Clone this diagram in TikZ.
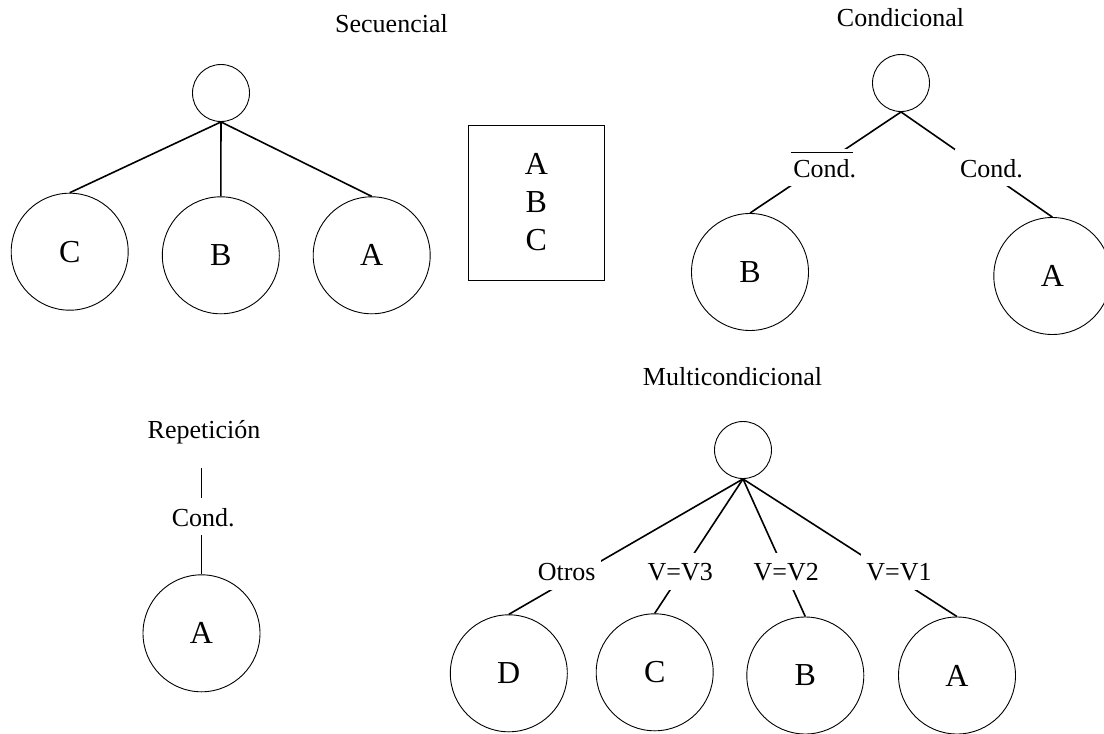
\documentclass[tikz,border=0pt]{standalone}
\usepackage{fontspec}
\setmainfont{Liberation Serif}
\usetikzlibrary{calc}
\begin{document}
\begin{tikzpicture}[x=1pt,y=-1pt,
  edge/.style={line width=1.6pt},
  leaf/.style={circle,draw,line width=0.9pt,minimum size=117pt,inner sep=0pt,
    font=\fontsize{32}{38}\selectfont},
  root/.style={circle,draw,line width=0.9pt,minimum size=57pt,inner sep=0pt},
  title/.style={font=\fontsize{26}{31}\selectfont,anchor=base,inner sep=0pt},
  guard/.style={font=\fontsize{26}{31}\selectfont,anchor=base,fill=white,
    inner sep=0pt,inner xsep=5pt,text height=28pt,text depth=9pt},
  listbox/.style={draw,line width=0.9pt,minimum width=136pt,minimum height=155pt,
    align=center,inner sep=0pt,font=\fontsize{32}{38}\selectfont},
]
\fill[white] (0,0) rectangle (1104,734);
\clip (0,0) rectangle (1104,734);

% Secuencial
\node[title] (seqT) at (391.5,32) {Secuencial};
\node[root] (seqR) at (221,93) {};
\node[leaf] (seqC) at (69.7,251.7) {C};
\node[leaf] (seqB) at (220.8,255.3) {B};
\node[leaf] (seqA) at (371.7,255.3) {A};
\draw[edge] (seqR.south) -- (seqC.north);
\draw[edge] (seqR.south) -- (seqB.north);
\draw[edge] (seqR.south) -- (seqA.north);

% Sequence as a listing
\node[listbox] (list) at (536.3,202.5) {A\\B\\C};

% Condicional
\node[title] (condT) at (900.5,26.7) {Condicional};
\node[root] (condR) at (901,83) {};
\node[leaf] (condB) at (750,272) {B};
\node[leaf] (condA) at (1052.3,276) {A};
\draw[edge] (condR.south) -- (condB.north);
\draw[edge] (condR.south) -- (condA.north);
\node[guard] (condNo) at (824.8,177.3) {Cond.};
\node[guard] (condYes) at (991.5,177) {Cond.};
\draw[line width=1.4pt] ($(condNo.base)+(-34.1,-24.6)$) -- ($(condNo.base)+(28.5,-24.6)$);

% Repeticion
\node[title] (repT) at (204,438) {Repetición};
\coordinate (repTop) at (201.5,468);
\node[leaf] (repA) at (201.5,633.3) {A};
\draw[edge] (repTop) -- (repA.north);
\node[guard] (repC) at (203.3,526) {Cond.};

% Multicondicional
\node[title] (mulT) at (732.5,385) {Multicondicional};
\node[root] (mulR) at (743,450) {};
\node[leaf] (mulD) at (508.8,673.3) {D};
\node[leaf] (mulC) at (654.7,672.3) {C};
\node[leaf] (mulB) at (805.3,675.5) {B};
\node[leaf] (mulA) at (957,675.5) {A};
\draw[edge] (mulR.south) -- (mulD.north);
\draw[edge] (mulR.south) -- (mulC.north);
\draw[edge] (mulR.south) -- (mulB.north);
\draw[edge] (mulR.south) -- (mulA.north);
\node[guard] (gOtros) at (566.7,580.7) {Otros};
\node[guard] (gV3) at (680.3,580.7) {V=V3};
\node[guard] (gV2) at (786.2,580.7) {V=V2};
\node[guard] (gV1) at (899,580.7) {V=V1};
\end{tikzpicture}
\end{document}
